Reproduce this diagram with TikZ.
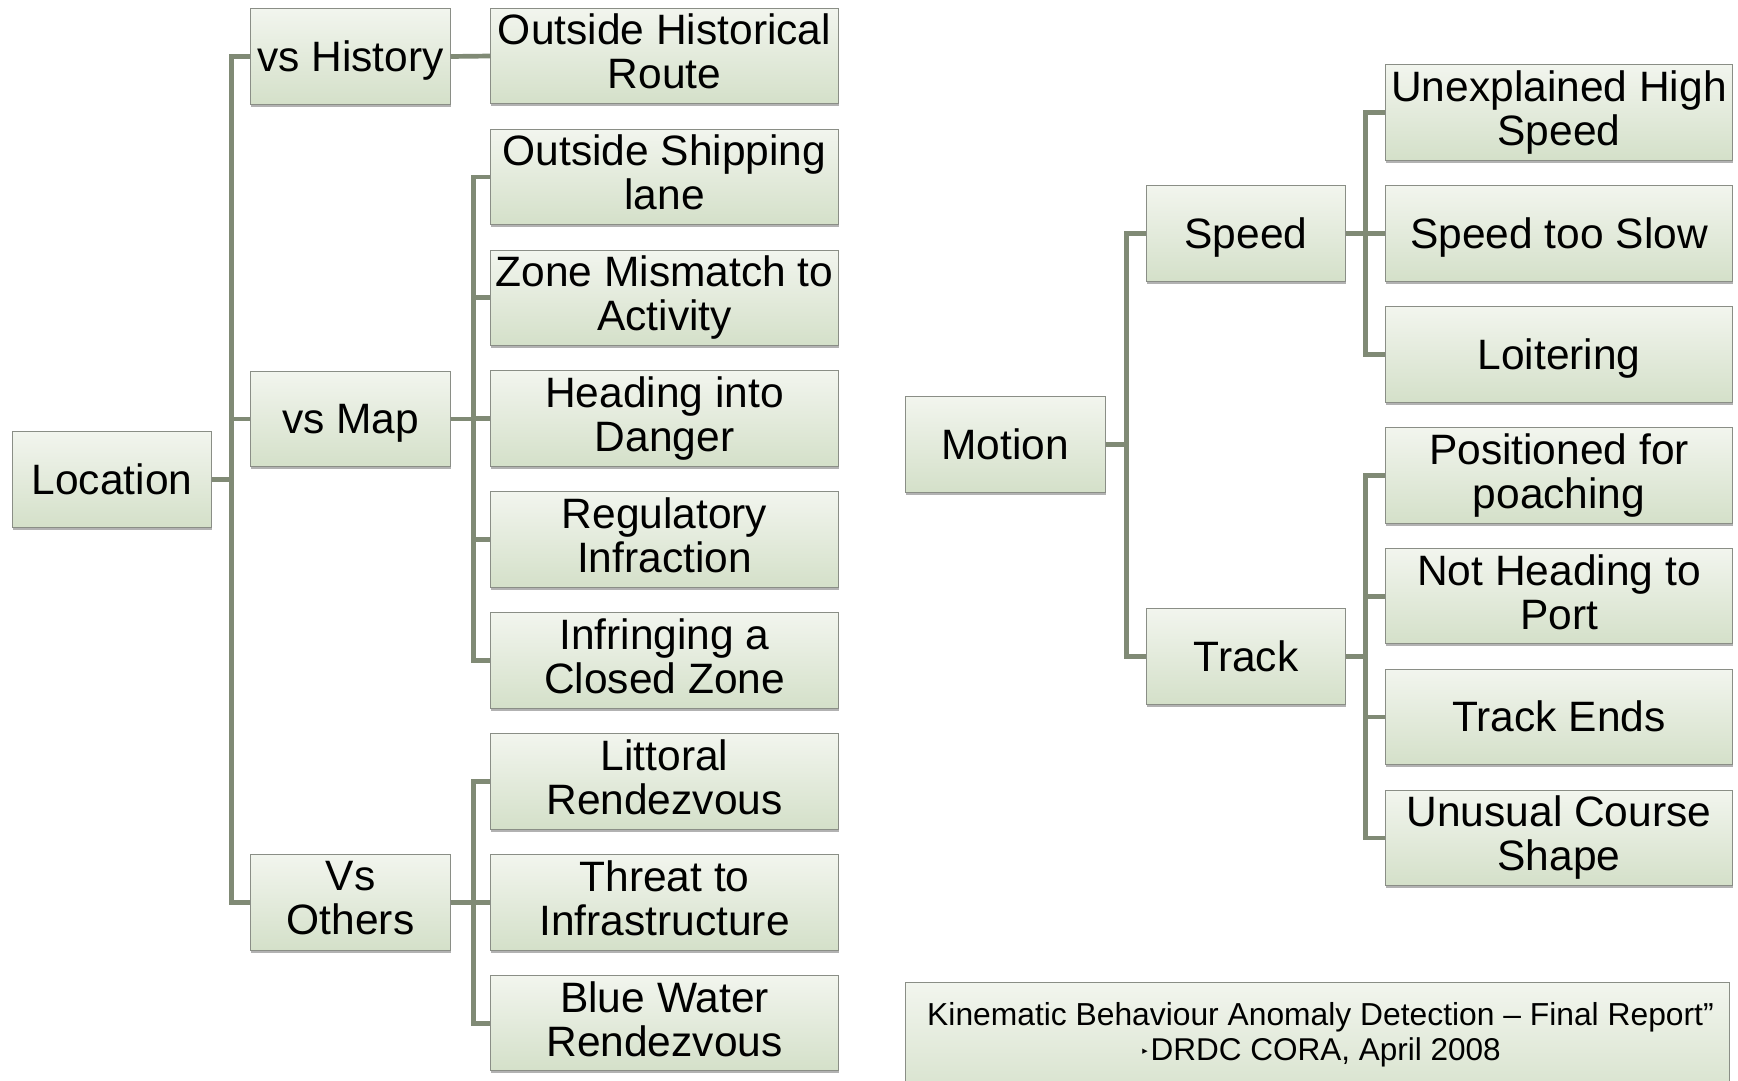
\documentclass[tikz,border=0pt]{standalone}
\usepackage{fontspec}
\setmainfont{Liberation Sans}
\newfontfamily\dejavu{DejaVu Sans}
\usetikzlibrary{shadows}
\definecolor{boxtop}{RGB}{242,245,238}
\definecolor{boxbot}{RGB}{212,224,201}
\definecolor{boxline}{RGB}{138,142,134}
\definecolor{conncol}{RGB}{128,138,117}
\begin{document}
\begin{tikzpicture}[x=1pt,y=-1pt,
  bx/.style={draw=boxline, line width=1pt, top color=boxtop, bottom color=boxbot,
    minimum height=95.5pt, inner sep=0pt, align=center,
    font=\fontsize{42.5}{44}\selectfont,
    drop shadow={shadow xshift=0.6pt, shadow yshift=-2.5pt, opacity=0.3, fill=black},
    execute at begin node={\rule{0pt}{0.905em}},
    execute at end node={\rule[-0.212em]{0pt}{0.212em}}},
  mid/.style={bx, minimum width=199.5pt},
  leaf/.style={bx, minimum width=347.5pt},
  conn/.style={draw=conncol, line width=4.7pt}
]
\useasboundingbox (0,0) rectangle (1738,1081);

% left tree
\node[mid] (loc) at (112,479.5) {Location};
\node[mid] (vh) at (350.5,56.5) {vs History};
\node[mid] (vm) at (350.5,419) {vs Map};
\node[mid] (vo) at (350.5,902.5) {Vs\\Others};

\node[leaf] (l1) at (664.5,56) {Outside Historical\\Route};
\node[leaf] (l2) at (664.5,176.9) {Outside Shipping\\lane};
\node[leaf] (l3) at (664.5,297.8) {Zone Mismatch to\\Activity};
\node[leaf] (l4) at (664.5,418.7) {Heading into\\Danger};
\node[leaf] (l5) at (664.5,539.6) {Regulatory\\Infraction};
\node[leaf] (l6) at (664.5,660.5) {Infringing a\\Closed Zone};
\node[leaf] (l7) at (664.5,781.4) {Littoral\\Rendezvous};
\node[leaf] (l8) at (664.5,902.3) {Threat to\\Infrastructure};
\node[leaf] (l9) at (664.5,1023.2) {Blue Water\\Rendezvous};

% right tree
\node[mid] (mot) at (1005.3,444.5) {Motion};
\node[mid] (spd) at (1246,233.5) {Speed};
\node[mid] (trk) at (1246,656.3) {Track};

\node[leaf] (r1) at (1559,112.5) {Unexplained High\\Speed};
\node[leaf] (r2) at (1559,233.5) {Speed too Slow};
\node[leaf] (r3) at (1559,354.4) {Loitering};
\node[leaf] (r4) at (1559,475.3) {Positioned for\\poaching};
\node[leaf] (r5) at (1559,596.2) {Not Heading to\\Port};
\node[leaf] (r6) at (1559,717) {Track Ends};
\node[leaf] (r7) at (1559,837.9) {Unusual Course\\Shape};

% reference box
\node[bx, minimum width=823.3pt, minimum height=127.3pt] (ref) at (1317.35,1046.35) {};
\node[anchor=base, inner sep=0pt, font=\fontsize{31.8}{36}\selectfont] (ref1) at (1320.5,1025) {Kinematic Behaviour Anomaly Detection – Final Report”};
\node[anchor=base, inner sep=0pt, font=\fontsize{31.5}{36}\selectfont] (ref2) at (1321.5,1060.5) {\raisebox{7.5pt}{\dejavu\fontsize{7}{7}\selectfont ▶}\hspace{3pt}DRDC CORA, April 2008};

% connectors
\foreach \t in {vh,vm,vo} \draw[conn] (loc.east) -- ++(19,0) |- (\t.west);
\draw[conn] (vh.east) -- (l1.west);
\foreach \t in {l2,l3,l4,l5,l6} \draw[conn] (vm.east) -- ++(23,0) |- (\t.west);
\foreach \t in {l7,l8,l9} \draw[conn] (vo.east) -- ++(23,0) |- (\t.west);

\foreach \t in {spd,trk} \draw[conn] (mot.east) -- ++(21,0) |- (\t.west);
\foreach \t in {r1,r2,r3} \draw[conn] (spd.east) -- ++(19.5,0) |- (\t.west);
\foreach \t in {r4,r5,r6,r7} \draw[conn] (trk.east) -- ++(19.5,0) |- (\t.west);
\end{tikzpicture}
\end{document}
